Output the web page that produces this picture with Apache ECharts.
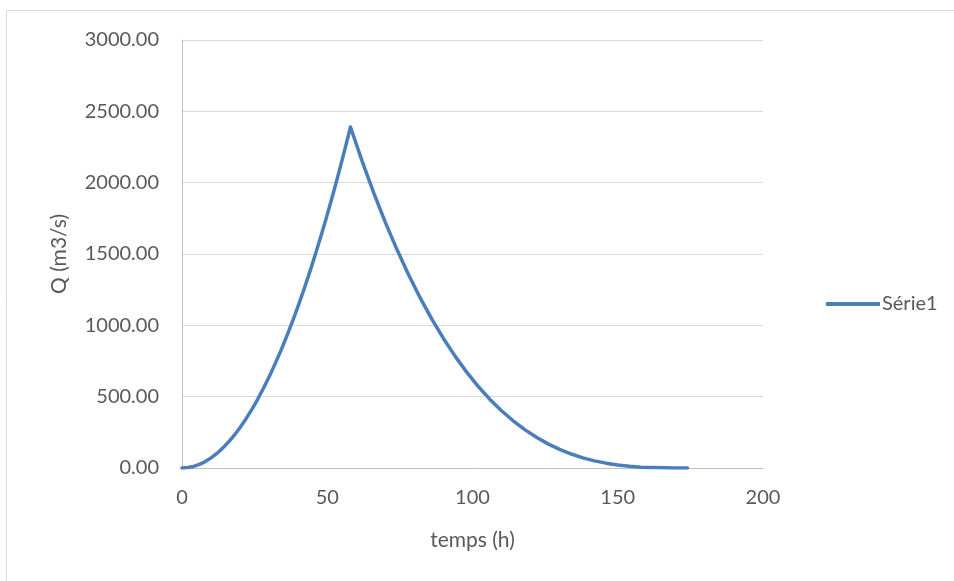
<!DOCTYPE html>
<html>
<head>
<meta charset="utf-8">
<script src="https://cdn.jsdelivr.net/npm/echarts@6/dist/echarts.min.js"></script>
<style>html,body{margin:0;padding:0;background:#fff;}#c{width:954px;height:581px;}</style>
</head>
<body>
<div id="c"></div>
<script>
const seriesName = 'Série1';
const xTitle = 'temps (h)';
const yTitle = 'Q (m3/s)';
const xTicks = [0, 50, 100, 150, 200];
const yTicks = [0, 500, 1000, 1500, 2000, 2500, 3000];
const timeH = [0,2,4,6,8,10,12,14,16,18,20,22,24,26,28,30,32,34,36,38,40,42,44,46,48,50,52,54,56,58,
  62,66,70,74,78,82,86,90,94,98,102,106,110,114,118,122,126,130,134,138,142,146,150,154,158,162,166,170,174];
const flowQ = [0,3,11,26,45,71,102,139,182,230,284,344,409,480,557,639,728,821,921,1026,1137,1253,1375,1503,1637,1776,1921,2072,2228,2390,
  2151,1929,1722,1531,1355,1192,1043,908,784,672,571,481,401,331,269,215,169,130,98,71,50,34,21,12,6,3,1,0,0];

const pts = timeH.map((t, i) => [t, flowQ[i]]);
const font = 'Lato, "Open Sans", sans-serif';
const txt = '#595959';

const chart = echarts.init(document.getElementById('c'), null, {renderer: 'canvas'});
chart.setOption({
  animation: false,
  backgroundColor: '#fff',
  graphic: [{
    type: 'rect', shape: {x: 6.5, y: 10.5, width: 1200, height: 1200},
    style: {fill: 'none', stroke: '#d9d9d9', lineWidth: 1}, silent: true
  }],
  grid: {left: 182, top: 40, width: 581, height: 428, containLabel: false},
  legend: {
    left: 821, top: 289, orient: 'vertical',
    data: [{name: seriesName, icon: 'rect'}],
    itemWidth: 54, itemHeight: 4, itemGap: 5,
    textStyle: {color: txt, fontSize: 20, fontFamily: font, padding: [0, 0, 0, -3]}
  },
  xAxis: {
    type: 'value', min: xTicks[0], max: xTicks[xTicks.length - 1], interval: 50,
    name: xTitle, nameLocation: 'middle', nameGap: 62,
    nameTextStyle: {color: txt, fontSize: 21, fontFamily: font},
    axisLine: {show: true, lineStyle: {color: '#bfbfbf', width: 1}},
    axisTick: {show: false},
    splitLine: {show: false},
    axisLabel: {color: txt, fontSize: 20, fontFamily: font, margin: 20}
  },
  yAxis: {
    type: 'value', min: yTicks[0], max: yTicks[yTicks.length - 1], interval: 500,
    name: yTitle, nameLocation: 'middle', nameGap: 112, nameRotate: 90,
    nameTextStyle: {color: txt, fontSize: 21, fontFamily: font},
    axisLine: {show: true, lineStyle: {color: '#bfbfbf', width: 1}},
    axisTick: {show: false},
    splitLine: {show: true, lineStyle: {color: '#d9d9d9', width: 1}},
    axisLabel: {color: txt, fontSize: 20, fontFamily: font, margin: 23,
      formatter: v => v.toFixed(2)}
  },
  series: [{
    name: seriesName, type: 'line', data: pts, showSymbol: false, symbol: 'none',
    smooth: false,
    lineStyle: {color: '#4a7ebb', width: 3.5, cap: 'round', join: 'round'},
    itemStyle: {color: '#4a7ebb'}
  }]
});
</script>
</body>
</html>
